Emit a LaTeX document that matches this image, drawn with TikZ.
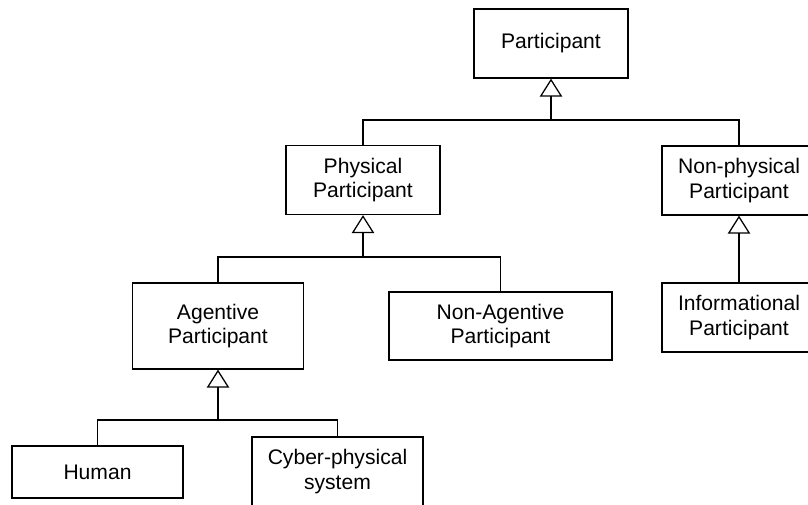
\documentclass[tikz,border=0pt]{standalone}
\usepackage{fontspec}
\setmainfont{Liberation Sans}
\usetikzlibrary{arrows.meta,calc}

\tikzset{
  cls/.style={draw,line width=0.9pt,inner sep=0pt,align=center,
    minimum width=3.85cm,minimum height=1.725cm,
    font=\fontsize{15}{17.5}\selectfont},
  isa/.style={line width=0.9pt,-{Triangle[open,length=0.45cm,width=0.56cm]}},
  tree/.style={line width=0.9pt},
}

\begin{document}
\begin{tikzpicture}[x=0.025cm,y=-0.025cm]
  \useasboundingbox (0,0) rectangle (808,505);
  % classes
  \node[cls] (participant) at (551,43.5) {Participant};
  \node[cls] (physical) at (363,180) {Physical\\Participant};
  \node[cls] (nonphysical) at (739,180.5) {Non-physical\\Participant};
  \node[cls,minimum width=4.275cm,minimum height=2.15cm] (agentive) at (218,326) {Agentive\\Participant};
  \node[cls,minimum width=5.575cm,minimum height=1.7cm] (nonagentive) at (500.5,326) {Non-Agentive\\Participant};
  \node[cls] (informational) at (739,317.5) {Informational\\Participant};
  \node[cls,minimum width=4.275cm,minimum height=1.3cm] (human) at (97.5,472) {Human};
  \node[cls,minimum width=4.275cm] (cyber) at (337.5,471.5) {Cyber-physical\\system};
  % generalisations
  \coordinate (j1) at (participant.south |- 0,120);
  \draw[tree] (physical.north) |- (j1) -| (nonphysical.north);
  \draw[isa] (j1) -- (participant.south);
  \coordinate (j2) at (physical.south |- 0,257);
  \draw[tree] (agentive.north) |- (j2) -| (nonagentive.north);
  \draw[isa] (j2) -- (physical.south);
  \draw[isa] (informational.north) -- (nonphysical.south);
  \coordinate (j3) at (agentive.south |- 0,420);
  \draw[tree] (human.north) |- (j3) -| (cyber.north);
  \draw[isa] (j3) -- (agentive.south);
\end{tikzpicture}
\end{document}
